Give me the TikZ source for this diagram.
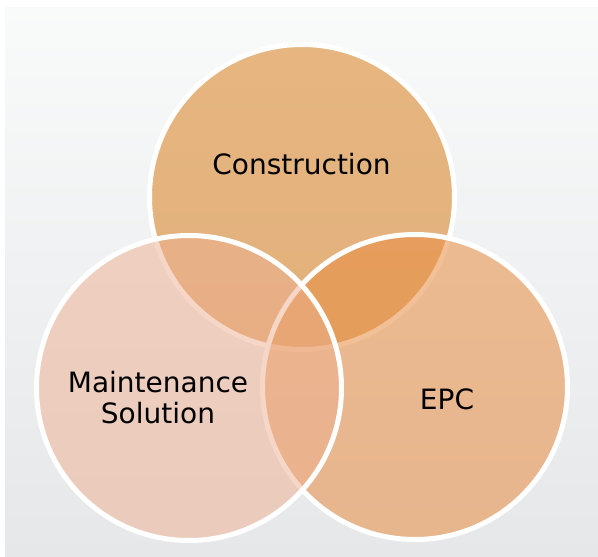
\documentclass[tikz,border=0pt]{standalone}
\usepackage{fontspec}
\setmainfont{DejaVu Sans}
\definecolor{bgtop}{RGB}{249,250,250}
\definecolor{bgbot}{RGB}{229,231,233}
\definecolor{ctop}{RGB}{217,127,30}
\definecolor{cright}{RGB}{233,141,66}
\definecolor{cleft}{RGB}{238,175,143}
\tikzset{
  venn/.style={circle, minimum size=305pt, inner sep=0pt, draw=white, line width=5pt},
  label text/.style={font=\fontsize{28}{31}\selectfont, text=black, inner sep=0pt}
}
\begin{document}
\begin{tikzpicture}[x=1pt,y=-1pt]
\useasboundingbox (0,0) rectangle (598,557);
\fill[white] (0,0) rectangle (598,557);
\shade[top color=bgtop, bottom color=bgbot] (5,7) rectangle (598,557);
\node[venn, fill=ctop, fill opacity=0.55] (top) at (302,197) {};
\node[venn, fill=cright, fill opacity=0.55] (right) at (415,387) {};
\node[venn, fill=cleft, fill opacity=0.5] (left) at (189,388) {};
\node[label text, anchor=base] (tconstr) at (301.5,174) {Construction};
\node[label text, align=center, anchor=center] (tmaint) at (158,398) {Maintenance\\Solution};
\node[label text, anchor=base] (tepc) at (447,409) {EPC};
\end{tikzpicture}
\end{document}
